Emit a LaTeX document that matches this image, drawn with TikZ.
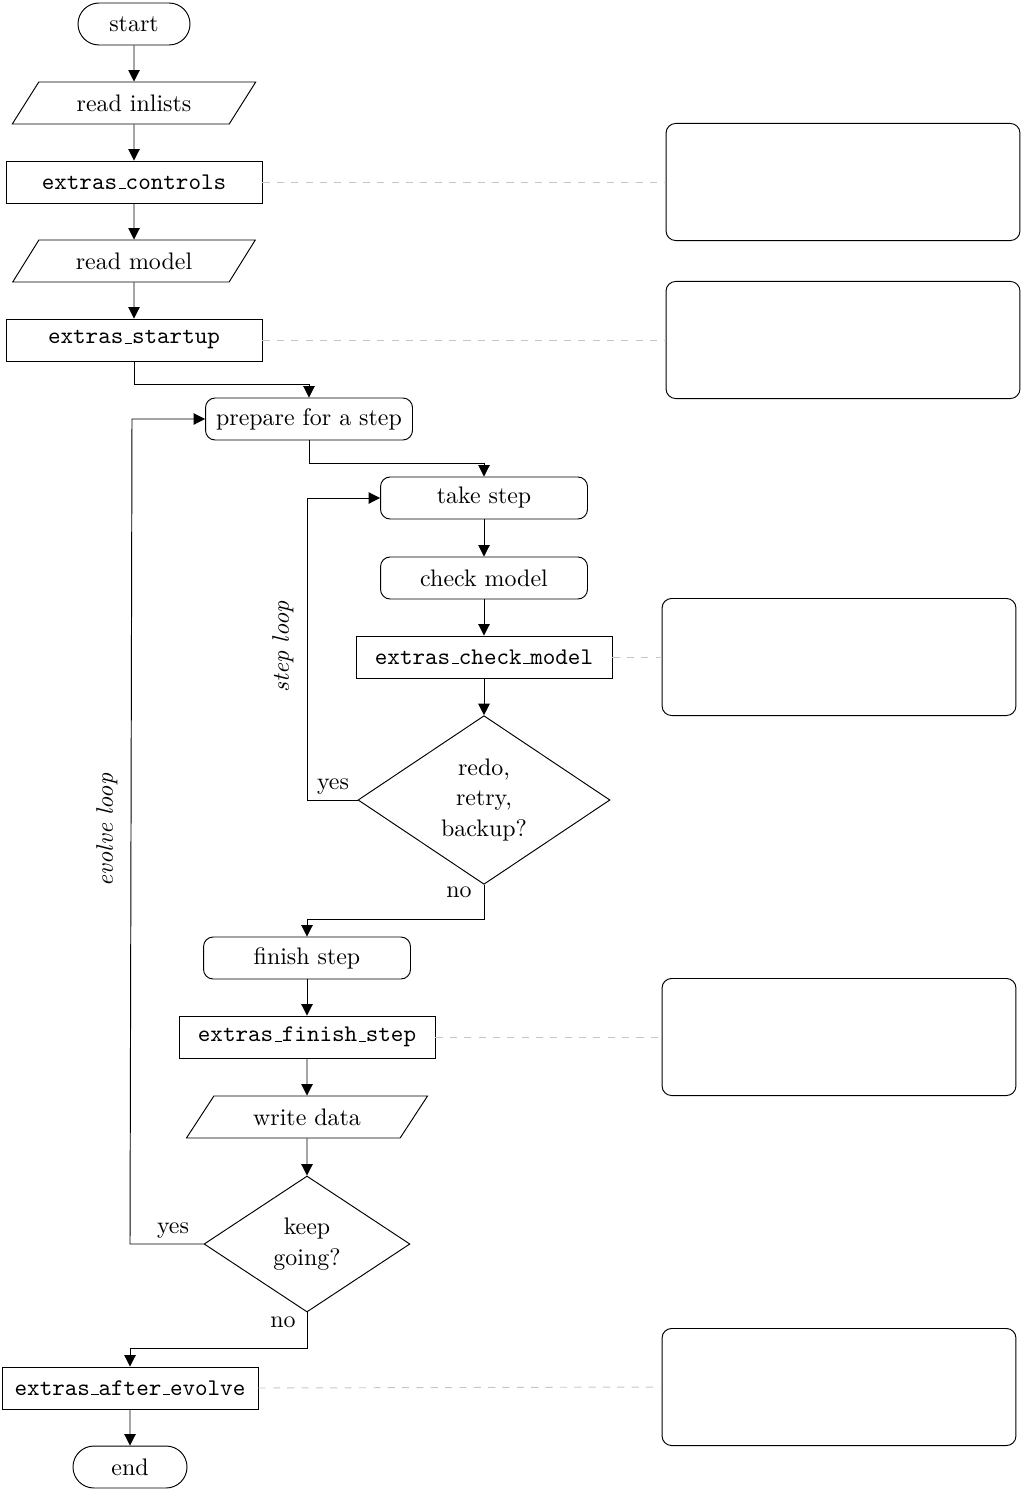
\documentclass[tikz,border=0pt]{standalone}
\usetikzlibrary{shapes.geometric,shapes.misc,arrows.meta}
\newcommand\usc{\leavevmode\kern.06em\vbox{\hrule width.3em}}
\begin{document}
\begin{tikzpicture}[x=0.014691cm,y=-0.014691cm,
  every node/.style={font=\normalsize},
  arr/.style={-{Triangle[length=4.8pt,width=4.8pt]}},
  term/.style={draw,rounded rectangle,minimum height=0.617cm,minimum width=1.88cm},
  proc/.style={draw,rounded corners=4pt,minimum height=0.617cm,minimum width=3.041cm},
  ext/.style={draw,rectangle,minimum height=0.617cm,minimum width=3.761cm,font=\ttfamily},
  io/.style={draw,trapezium,trapezium left angle=61,trapezium right angle=119,trapezium stretches=true,minimum height=0.617cm,minimum width=3.585cm},
  dec/.style={draw,diamond,inner sep=0pt,align=center,font=\fontsize{10}{12.9}\selectfont},
  side/.style={draw,rounded corners=4pt,minimum width=5.2cm,minimum height=1.72cm},
  grayline/.style={draw=gray!45,dashed},
  lbl/.style={inner sep=0pt},
  looplbl/.style={rotate=90,font=\itshape}]
\useasboundingbox (0,0) rectangle (1021,1489);
% main column
\node[term] (start) at (134,24) {start};
\node[io] (inl) at (134,103) {read inlists};
\node[ext] (ctrl) at (134,182) {extras\usc controls};
\node[io] (rmod) at (134,261) {read model};
\node[ext] (stup) at (134,340) {extras\usc startup};
\node[proc] (prep) at (309,419) {prepare for a step};
\node[proc] (take) at (484,498) {take step};
\node[proc] (chk) at (484,578) {check model};
\node[ext] (xchk) at (484,657) {extras\usc check\usc model};
\node[dec,minimum width=3.702cm,minimum height=2.468cm] (redo) at (484,800) {redo,\\retry,\\backup?};
\node[proc] (fin) at (307,958) {finish step};
\node[ext] (xfin) at (307,1037) {extras\usc finish\usc step};
\node[io,minimum width=3.555cm] (wd) at (307,1117) {write data};
\node[dec,minimum width=3.026cm,minimum height=1.998cm] (keep) at (307,1244) {keep\\going?};
\node[ext] (aft) at (130,1388) {extras\usc after\usc evolve};
\node[term,minimum width=1.91cm] (end) at (130,1467) {end};
% side boxes
\node[side] (b1) at (843,182) {};
\node[side] (b2) at (843,340) {};
\node[side] (b3) at (839,657) {};
\node[side] (b4) at (839,1037) {};
\node[side] (b5) at (839,1387) {};
\draw[grayline] (ctrl.east) -- (b1.west);
\draw[grayline] (stup.east) -- (b2.west);
\draw[grayline] (xchk.east) -- (b3.west);
\draw[grayline] (xfin.east) -- (b4.west);
\draw[grayline] (aft.east) -- (b5.west);
% connectors
\draw[arr] (start) -- (inl);
\draw[arr] (inl) -- (ctrl);
\draw[arr] (ctrl) -- (rmod);
\draw[arr] (rmod) -- (stup);
\draw[arr] (stup.south) -- ++(0,23) -| (prep.north);
\draw[arr] (prep.south) -- ++(0,23) -| (take.north);
\draw[arr] (take) -- (chk);
\draw[arr] (chk) -- (xchk);
\draw[arr] (xchk) -- (redo.north);
\draw[arr] (redo.west) -- (307,800) |- (take.west);
\node[lbl] (yes1) at (333,787) {yes};
\node[looplbl] (sl) at (283,647) {step loop};
\draw[arr] (redo.south) -- ++(0,35) -| (fin.north);
\node[lbl] (no1) at (459,892) {no};
\draw[arr] (fin) -- (xfin);
\draw[arr] (xfin) -- (wd);
\draw[arr] (wd) -- (keep.north);
\coordinate (ev1) at (130,1244);
\coordinate (ev2) at (132,419);
\draw[arr] (keep.west) -- (ev1) -- (ev2) -- (prep.west);
\node[lbl] (yes2) at (173,1231) {yes};
\node[looplbl] (el) at (107,830) {evolve loop};
\draw[arr] (keep.south) -- ++(0,36) -| (aft.north);
\node[lbl] (no2) at (283,1322) {no};
\draw[arr] (aft) -- (end);
\end{tikzpicture}
\end{document}
